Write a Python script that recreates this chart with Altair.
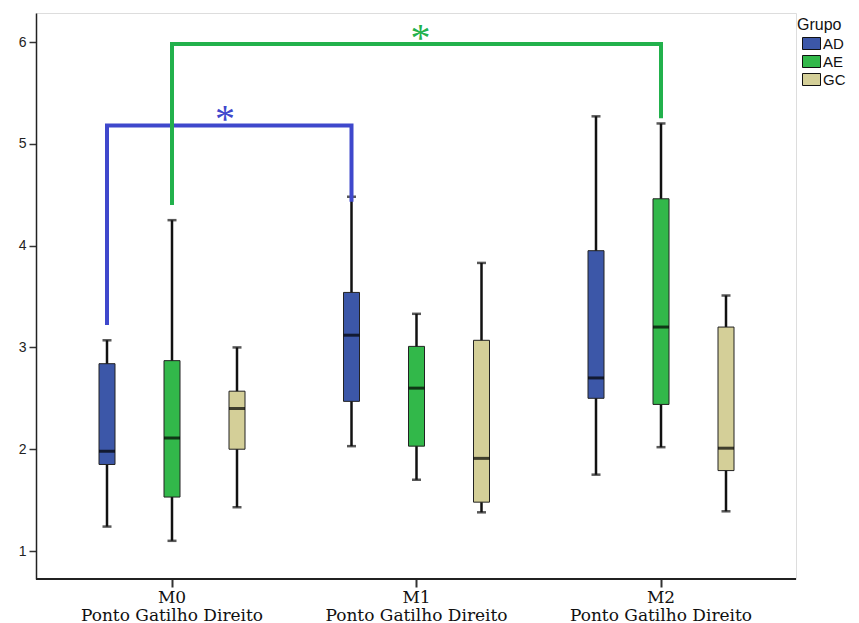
import altair as alt
import pandas as pd

timepoints = ["M0", "M1", "M2"]
groups = ["AD", "AE", "GC"]
group_colors = ["#3c57a8", "#32b84a", "#d4cf98"]

# per timepoint, per group (AD, AE, GC)
whisker_low = [[1.24, 1.10, 1.43], [2.03, 1.70, 1.38], [1.75, 2.02, 1.39]]
q1 = [[1.85, 1.53, 2.00], [2.47, 2.03, 1.48], [2.50, 2.44, 1.79]]
median = [[1.98, 2.11, 2.40], [3.12, 2.60, 1.91], [2.70, 3.20, 2.01]]
q3 = [[2.84, 2.87, 2.57], [3.54, 3.01, 3.07], [3.95, 4.46, 3.20]]
whisker_high = [[3.07, 4.25, 3.00], [4.48, 3.33, 3.83], [5.27, 5.20, 3.51]]

# significance brackets: (id, color, points [(timepoint, group, value)])
bracket_ids = ["b1", "b2"]
bracket_colors = ["#3f48cc", "#22b14c"]
bracket_points = [
    [("M0", "AD", 3.22), ("M0", "AD", 5.18), ("M1", "AD", 5.18), ("M1", "AD", 4.43)],
    [("M0", "AE", 4.40), ("M0", "AE", 5.98), ("M2", "AE", 5.98), ("M2", "AE", 5.25)],
]
star_tp = ["M0", "M1"]
star_grp = ["GC", "AE"]
star_val = [5.18, 5.98]

rows = []
for i, t in enumerate(timepoints):
    for j, g in enumerate(groups):
        rows.append(dict(t=t, g=g, lo=whisker_low[i][j], q1=q1[i][j],
                         med=median[i][j], q3=q3[i][j], hi=whisker_high[i][j]))
df = pd.DataFrame(rows)

brows = []
for bid, col, pts in zip(bracket_ids, bracket_colors, bracket_points):
    for k, (t, g, v) in enumerate(pts):
        brows.append(dict(b=bid, c=col, t=t, g=g, v=v, o=k))
bdf = pd.DataFrame(brows)

star_df = pd.DataFrame(dict(t=star_tp, g=star_grp, v=star_val, c=bracket_colors))

xscale = alt.Scale(domain=timepoints, range=[13.75, 747.25], paddingInner=0, paddingOuter=0)
xoff_scale = alt.Scale(domain=groups, range=[24.75, 219.75], paddingInner=0, paddingOuter=0)
yscale = alt.Scale(domain=[0.725, 6.285], nice=False, zero=False)

X = alt.X("t:N", scale=xscale, sort=timepoints,
          axis=alt.Axis(title=None, labelAngle=0, domain=False, labelLimit=400,
                        labelOverlap=False,
                        labelExpr="[datum.label, 'Ponto Gatilho Direito']",
                        labelFont="DejaVu Serif", labelFontSize=17,
                        labelColor="#111", labelPadding=2, labelLineHeight=18,
                        tickSize=8, tickColor="#333", tickWidth=2))
XO = alt.XOffset("g:N", scale=xoff_scale, sort=groups)
Yaxis = alt.Axis(title=None, values=[1, 2, 3, 4, 5, 6], grid=False, format="d",
                 labelFont="Liberation Sans", labelFontSize=14, labelColor="#222",
                 tickSize=7, tickColor="#333", tickWidth=1.5, labelPadding=3,
                 domainColor="#222", domainWidth=1.5)

base = alt.Chart(df)

whiskers = base.mark_rule(color="#111", strokeWidth=2.5).encode(
    x=X, xOffset=XO, y=alt.Y("lo:Q", scale=yscale, axis=Yaxis), y2="hi:Q")

caps_lo = base.mark_tick(color="#111", size=9, thickness=2.5).encode(
    x=X, xOffset=XO, y=alt.Y("lo:Q", scale=yscale))
caps_hi = base.mark_tick(color="#111", size=9, thickness=2.5).encode(
    x=X, xOffset=XO, y=alt.Y("hi:Q", scale=yscale))

boxes = base.mark_bar(size=16, stroke="#222", strokeWidth=1).encode(
    x=X, xOffset=XO,
    y=alt.Y("q1:Q", scale=yscale), y2="q3:Q",
    fill=alt.Fill("g:N", scale=alt.Scale(domain=groups, range=group_colors),
                  legend=alt.Legend(title="Grupo", orient="none", legendX=761, legendY=4,
                                    titleFont="Liberation Sans", titleFontSize=16,
                                    titleFontWeight="normal", titleColor="#111",
                                    titlePadding=3,
                                    labelFont="Liberation Sans", labelFontSize=15,
                                    labelColor="#111", labelOffset=4,
                                    symbolOffset=7,
                                    symbolType="M-1.5,-1H1.5V1H-1.5Z", symbolSize=144,
                                    symbolStrokeColor="#111", symbolStrokeWidth=1,
                                    rowPadding=1)))

medians = base.mark_tick(color="#000", size=16, thickness=3).encode(
    x=X, xOffset=XO, y=alt.Y("med:Q", scale=yscale))

brackets = alt.Chart(bdf).mark_line(strokeWidth=4).encode(
    x=X, xOffset=XO, y=alt.Y("v:Q", scale=yscale),
    detail="b:N", order="o:Q", color=alt.Color("c:N", scale=None))

stars_b = alt.Chart(star_df.iloc[[0]]).mark_text(text="*", fontSize=40, font="Liberation Serif",
                                                 baseline="alphabetic", dx=-12, dy=7).encode(
    x=X, xOffset=XO, y=alt.Y("v:Q", scale=yscale), color=alt.Color("c:N", scale=None))
stars_g = alt.Chart(star_df.iloc[[1]]).mark_text(text="*", fontSize=40, font="Liberation Serif",
                                                 baseline="alphabetic", dx=4, dy=7).encode(
    x=X, xOffset=XO, y=alt.Y("v:Q", scale=yscale), color=alt.Color("c:N", scale=None))

bottom_line = alt.Chart(df).mark_rule(color="#222", strokeWidth=1.5).encode(
    x=alt.value(0), x2=alt.value(760), y=alt.value(566))

chart = alt.layer(whiskers, caps_lo, caps_hi, boxes, medians, brackets, stars_b, stars_g,
                  bottom_line).properties(
    width=760, height=566,
    autosize=alt.AutoSizeParams(type="none"),
    padding={"left": 36, "top": 13, "right": 63, "bottom": 44},
).configure_view(stroke="#888", strokeWidth=2).configure(background="white")

chart.save("out.html", embed_options={"renderer": "svg", "actions": False})
